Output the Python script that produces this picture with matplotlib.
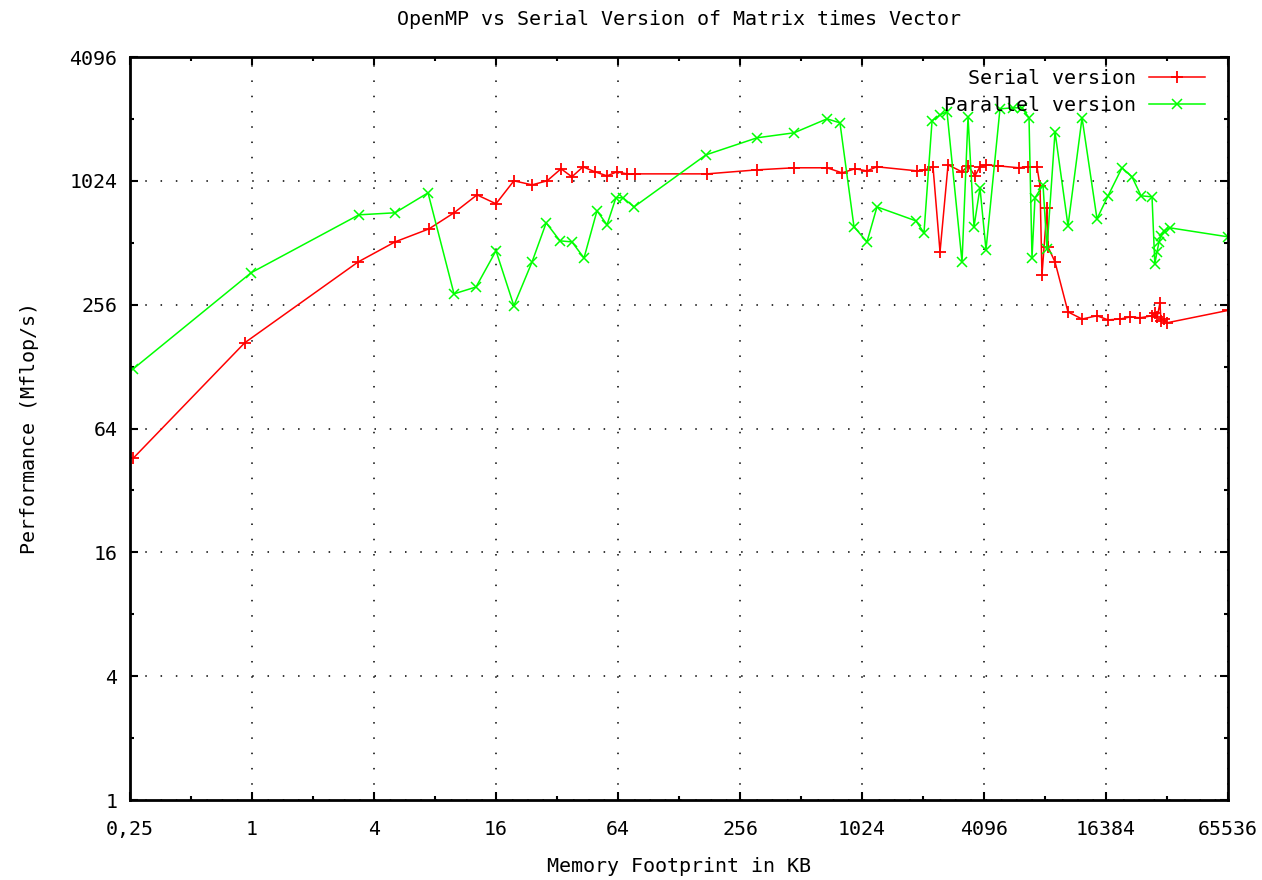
import matplotlib
matplotlib.use("Agg")
import matplotlib.pyplot as plt
from matplotlib.ticker import FixedLocator, FixedFormatter, NullFormatter

# ---- data ----
serial_x = [0.26, 0.92, 3.34, 5.08, 7.47, 9.93, 12.9, 16, 19.6, 24.1, 28.6, 33.5, 37.9, 43.0,
            49.3, 56.5, 63.3, 70.9, 77.6, 176, 311, 473, 688, 816, 946, 1084, 1214, 1914,
            2095, 2295, 2485, 2722, 3191, 3416, 3698, 3913, 4190, 4800, 6100, 6750, 7480,
            7740, 7915, 8380, 8475, 9180, 10640, 12480, 14790, 16770, 19220, 21520, 24100,
            27640, 28500, 29300, 30240, 30600, 31500, 32768, 65536]
serial_y = [46, 167, 413, 517, 598, 716, 875, 792, 1024, 979, 1024, 1172, 1071, 1198,
            1132, 1083, 1132, 1107, 1107, 1107, 1158, 1185, 1185, 1120, 1172, 1145, 1198, 1145,
            1158, 1198, 462, 1225, 1132, 1211, 1083, 1198, 1225, 1211, 1185, 1198, 1198,
            968, 357, 757, 489, 413, 236, 218, 226, 216, 218, 223, 221,
            226, 233, 222, 261, 214, 218, 209, 240]

parallel_x = [0.26, 0.99, 3.37, 5.08, 7.39, 9.93, 12.75, 16, 19.6, 24.1, 28.3, 33.1, 37.9, 43.5,
              50.4, 56.5, 62.5, 67.7, 76.8, 174, 311, 473, 688, 797, 935, 1084, 1214, 1891,
              2071, 2270, 2485, 2690, 3191, 3416, 3656, 3913, 4190, 4911, 5693, 6306, 6831,
              7067, 7312, 8010, 8380, 9180, 10640, 12480, 14790, 16770, 19650, 22010, 24400,
              27640, 28530, 29250, 29930, 30600, 31680, 33900, 65536]
parallel_y = [125, 366, 700, 716, 895, 289, 312, 468, 253, 413, 640, 523, 517, 432,
              732, 626, 847, 847, 765, 1370, 1658, 1753, 2050, 1960, 612, 517, 765, 654,
              572, 2005, 2144, 2218, 413, 2097, 612, 947, 473, 2293, 2319, 2319, 2073,
              432, 847, 979, 478, 1772, 619, 2073, 669, 866, 1185, 1071, 866,
              856, 404, 462, 517, 553, 585, 605, 547]

x_major = [0.25, 1, 4, 16, 64, 256, 1024, 4096, 16384, 65536]
x_labels = ["0,25", "1", "4", "16", "64", "256", "1024", "4096", "16384", "65536"]
x_minor = [0.5, 2, 8, 32, 128, 512, 2048, 8192, 32768]
y_major = [1, 4, 16, 64, 256, 1024, 4096]
y_labels = ["1", "4", "16", "64", "256", "1024", "4096"]
y_minor = [2, 8, 32, 128, 512, 2048]

title = "OpenMP vs Serial Version of Matrix times Vector"
xlabel = "Memory Footprint in KB"
ylabel = "Performance (Mflop/s)"

# ---- figure ----
plt.rcParams['font.family'] = ['DejaVu Sans Mono', 'DejaVu Sans']
FS = 14.4
W, H = 1262, 880
fig = plt.figure(figsize=(W / 100, H / 100), dpi=100)
ax = fig.add_axes([130 / W, (H - 800) / H, (1228 - 130) / W, (800 - 57) / H])

ax.set_xscale('log', base=2)
ax.set_yscale('log', base=2)
ax.set_xlim(0.25, 65536)
ax.set_ylim(1, 4096)

ax.plot(serial_x, serial_y, color='#ff0000', lw=1.1, marker='+', ms=9, mew=1.3,
        label='Serial version', clip_on=True)
ax.plot(parallel_x, parallel_y, color='#00ff00', lw=1.1, marker='x', ms=6.5, mew=1.1,
        label='Parallel version', clip_on=True)

ax.xaxis.set_major_locator(FixedLocator(x_major))
ax.xaxis.set_major_formatter(FixedFormatter(x_labels))
ax.xaxis.set_minor_locator(FixedLocator(x_minor))
ax.xaxis.set_minor_formatter(NullFormatter())
ax.yaxis.set_major_locator(FixedLocator(y_major))
ax.yaxis.set_major_formatter(FixedFormatter(y_labels))
ax.yaxis.set_minor_locator(FixedLocator(y_minor))
ax.yaxis.set_minor_formatter(NullFormatter())

ax.tick_params(which='both', direction='in', top=True, right=True, color='black',
               labelsize=FS)
ax.tick_params(axis='y', which='both', pad=9)
ax.tick_params(axis='x', which='both', pad=14.5)
ax.tick_params(which='major', length=6, width=1.5)
ax.tick_params(which='minor', length=3, width=1.5)

for s in ax.spines.values():
    s.set_linewidth(2.0)
    s.set_color('black')

ax.grid(True, which='major', color='black', linestyle=(0, (1, 9)), linewidth=1.1)
ax.set_axisbelow(True)

ax.set_title(title, fontsize=FS, pad=23)
ax.set_xlabel(xlabel, fontsize=FS, labelpad=12.5)
ax.set_ylabel(ylabel, fontsize=FS, labelpad=22)

leg = ax.legend(loc='upper right', bbox_to_anchor=(1 - 23 / 1098, 1 - 12 / 743),
                borderaxespad=0, borderpad=0, frameon=False, markerfirst=False,
                fontsize=FS, handlelength=2.8, handletextpad=0.65, labelspacing=0.4,
                numpoints=1)

fig.savefig('out.png', dpi=100, facecolor='white')
